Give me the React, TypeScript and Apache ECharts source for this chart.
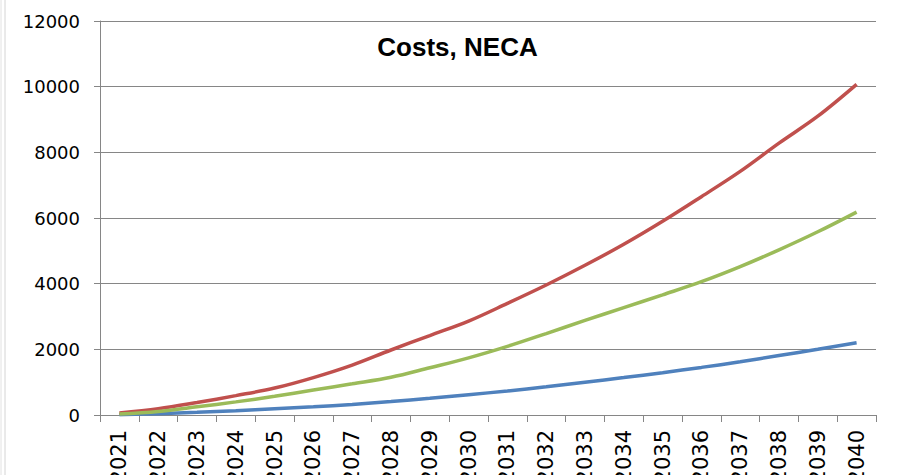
import React, { useEffect, useRef } from "react";
import * as echarts from "echarts";

// Years on the category axis
const years = [
  "2021", "2022", "2023", "2024", "2025", "2026", "2027", "2028", "2029", "2030",
  "2031", "2032", "2033", "2034", "2035", "2036", "2037", "2038", "2039", "2040",
];

// Cost series (three scenarios)
const costsBlue = [10, 40, 80, 130, 190, 250, 320, 410, 510, 620, 730, 860, 1000, 1140, 1290, 1450, 1620, 1810, 2000, 2200];
const costsRed = [60, 190, 380, 590, 820, 1140, 1520, 1980, 2420, 2860, 3400, 3960, 4560, 5200, 5900, 6650, 7420, 8280, 9100, 10070];
const costsGreen = [30, 110, 250, 400, 570, 760, 950, 1150, 1440, 1740, 2090, 2480, 2880, 3270, 3660, 4060, 4520, 5030, 5580, 6180];

const chartTitle = "Costs, NECA";

const GRID = "#868686";

export default function App() {
  const ref = useRef<HTMLDivElement>(null);

  useEffect(() => {
    if (!ref.current) return;
    const chart = echarts.init(ref.current, null, { renderer: "svg" });

    const line = (name: string, data: number[], color: string) => ({
      name,
      type: "line",
      data,
      smooth: 0.35,
      showSymbol: false,
      symbol: "none",
      lineStyle: { color, width: 3.5 },
      itemStyle: { color },
    });

    chart.setOption({
      animation: false,
      backgroundColor: "#ffffff",
      grid: {
        left: 100,
        right: 24,
        top: 21,
        bottom: 60,
        containLabel: false,
        outerBoundsMode: "none",
      },
      graphic: [
        { type: "line", shape: { x1: 1, y1: 0, x2: 1, y2: 475 }, style: { stroke: "#e2e2e2", lineWidth: 1 } },
        { type: "line", shape: { x1: 5, y1: 0, x2: 5, y2: 475 }, style: { stroke: "#d4d4d4", lineWidth: 1 } },
        {
          type: "text",
          x: 457.5,
          y: 47,
          style: {
            text: chartTitle,
            fontFamily: "Liberation Sans",
            fontWeight: "bold",
            fontSize: 26,
            fill: "#000000",
            align: "center",
            verticalAlign: "middle",
          },
        },
      ],
      xAxis: {
        type: "category",
        data: years,
        boundaryGap: true,
        axisLine: { show: true, lineStyle: { color: GRID, width: 1 } },
        axisTick: { show: true, alignWithLabel: false, length: 7, lineStyle: { color: GRID } },
        axisLabel: {
          rotate: 90,
          margin: 15,
          interval: 0,
          fontFamily: "DejaVu Sans",
          fontSize: 21,
          color: "#000000",
        },
        splitLine: { show: false },
      },
      yAxis: {
        type: "value",
        min: 0,
        max: 12000,
        interval: 2000,
        axisLine: { show: true, lineStyle: { color: GRID, width: 1 } },
        axisTick: { show: true, length: 6, lineStyle: { color: GRID } },
        axisLabel: {
          margin: 20,
          fontFamily: "DejaVu Sans",
          fontSize: 18,
          color: "#000000",
          formatter: (v: number) => String(v),
        },
        splitLine: { show: true, lineStyle: { color: GRID, width: 1 } },
      },
      series: [
        line("Blue", costsBlue, "#4F81BD"),
        line("Red", costsRed, "#C0504D"),
        line("Green", costsGreen, "#9BBB59"),
      ],
    });

    return () => chart.dispose();
  }, []);

  return (
    <div
      ref={ref}
      style={{ position: "fixed", left: 0, top: 0, width: 900, height: 475, background: "#fff" }}
    />
  );
}
